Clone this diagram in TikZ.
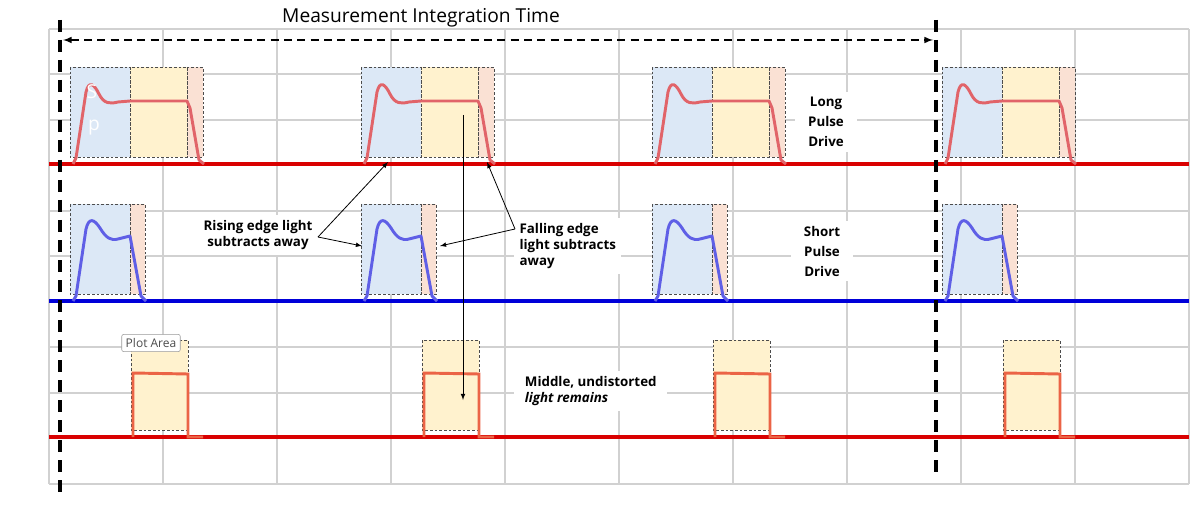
\documentclass[tikz,border=0pt]{standalone}
\usepackage{fontspec}
\setmainfont{Open Sans}
\begin{document}
\begin{tikzpicture}[x=0.75pt,y=-0.75pt,
  grid/.style={draw=black!18,line width=0.8pt},
  bbox/.style={draw=black!70,dashed,line width=0.4pt,dash pattern=on 2pt off 1.5pt},
  sigR/.style={draw=red!85!black,line width=2.4pt},
  sigB/.style={draw=blue!85!black,line width=2.4pt},
  pulR/.style={draw={rgb,255:red,225;green,100;blue,105},line width=2.2pt,line join=round},
  pulB/.style={draw={rgb,255:red,95;green,95;blue,230},line width=2.2pt,line join=round},
  lab/.style={fill=white,font=\bfseries,align=center,inner sep=4pt},
  ann/.style={draw=black,line width=0.6pt,-latex},
  vdash/.style={draw=black,line width=2.4pt,dash pattern=on 9pt off 6pt}]
\definecolor{bl}{RGB}{220,232,246}
\definecolor{ye}{RGB}{255,242,206}
\definecolor{pk}{RGB}{250,225,212}
\useasboundingbox (0,0) rectangle (1201,520);
% grid
\foreach \x in {49,163,277,391,505,619,733,847,961,1075,1189} \draw[grid] (\x,29) -- (\x,484);
\foreach \y in {29,74,120,165,211,256,302,347,393,438,484} \draw[grid] (49,\y) -- (1189,\y);
% baselines
\draw[sigR] (49,164) -- (1189,164);
\draw[sigB] (49,301) -- (1189,301);
\draw[sigR] (49,437) -- (1189,437);
\foreach \o in {0,291,582,872}{
 \begin{scope}[xshift=\o*0.75pt]
  \fill[bl] (70,67) rectangle (130,157); \fill[ye] (130,67) rectangle (187,157); \fill[pk] (187,67) rectangle (203,157);
  \draw[bbox] (70,67) rectangle (130,157); \draw[bbox] (130,67) rectangle (187,157); \draw[bbox] (187,67) rectangle (203,157);
  \draw[pulR] (73,164) -- (76,158) -- (86,92) .. controls (89,80) and (94,84) .. (99,94) .. controls (104,104) and (110,104) .. (118,102) -- (130,101) -- (187,101) -- (190,108) -- (199,160) -- (204,164);
  \fill[bl] (70,204) rectangle (130,294); \fill[pk] (130,204) rectangle (145,294);
  \draw[bbox] (70,204) rectangle (130,294); \draw[bbox] (130,204) rectangle (145,294);
  \draw[pulB] (73,301) -- (76,296) -- (86,229) .. controls (89,217) and (94,219) .. (100,228) .. controls (106,238) and (111,241) .. (118,239) -- (130,236) -- (141,296) -- (146,301);
  \fill[ye] (131,340) rectangle (188,430); \draw[bbox] (131,340) rectangle (188,430);
  \draw[draw={rgb,255:red,235;green,100;blue,70},line width=2.2pt] (133,437) -- (133,373) -- (188,374) -- (188,437) -- (203,437);
 \end{scope}}
\node[text=white,font=\Large] (s) at (92,92) {S};
\node[text=white,font=\Large] (p) at (94,128) {p};
% measurement
\node[font=\Large] (mt) at (421,18) {Measurement Integration Time};
\coordinate (l1) at (60,20); \coordinate (l2) at (60,495);
\coordinate (r1) at (936,20); \coordinate (r2) at (936,475);
\draw[vdash] (l1) -- (l2); \draw[vdash] (r1) -- (r2);
\coordinate (a1) at (63,40); \coordinate (a2) at (933,40);
\draw[black,line width=1.2pt,dash pattern=on 6pt off 4pt,latex-latex] (a1) -- (a2);
% labels
\node[lab,inner xsep=10pt] (lp) at (826,122) {Long\\[3pt]Pulse\\[3pt]Drive};
\node[lab,inner xsep=10pt] (sp) at (822,251) {Short\\[3pt]Pulse\\[3pt]Drive};
\node[lab] (re) at (258,235) {Rising edge light\\subtracts away};
\node[lab,align=left,anchor=west] (fe) at (514,246) {Falling edge\\light subtracts\\away};
\node[lab,align=left,anchor=west,inner xsep=8pt] (mu) at (514,391) {Middle, undistorted\\\textit{light remains}};
\node[draw=black!40,fill=white,rounded corners=1.5pt,font=\small,text=black!70,inner sep=3pt] (pa) at (151,343) {Plot Area};
% annotation arrows
\coordinate (rc) at (318,237);
\coordinate (rt1) at (388,162); \coordinate (rt2) at (362,246);
\draw[ann] (rc) -- (rt1); \draw[ann] (rc) -- (rt2);
\coordinate (fc) at (515,229);
\coordinate (ft1) at (487,162); \coordinate (ft2) at (440,246);
\draw[ann] (fc) -- (ft1); \draw[ann] (fc) -- (ft2);
\coordinate (m1) at (463,115); \coordinate (m2) at (463,400);
\draw[ann] (m1) -- (m2);
\end{tikzpicture}
\end{document}
